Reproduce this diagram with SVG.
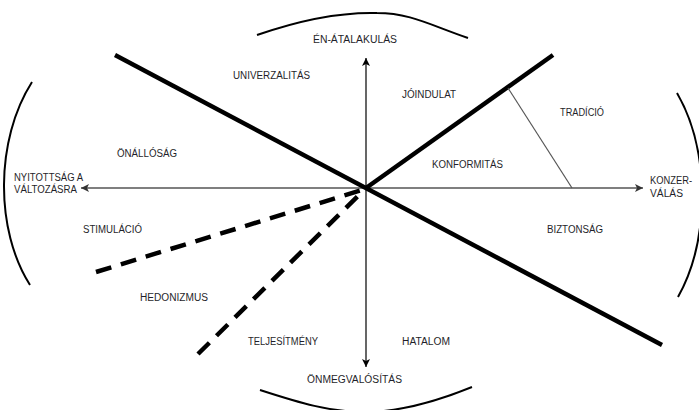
<svg xmlns="http://www.w3.org/2000/svg" width="699" height="410" viewBox="0 0 699 410">
<style>
  text { font-family: "Liberation Sans", Arial, sans-serif; font-size: 10px; fill: #1f1f2a; }
  .thick { stroke: #000; stroke-width: 4.5; fill: none; }
  .dash { stroke: #000; stroke-width: 4.5; fill: none; stroke-dasharray: 16 10; }
  .arc { stroke: #000; stroke-width: 2; fill: none; }
  .axisH { stroke: #555; stroke-width: 1.5; fill: none; }
  .axisV { stroke: #000; stroke-width: 1.2; fill: none; }
  .thin { stroke: #555; stroke-width: 1.2; fill: none; }
</style>
<defs>
  <marker id="ahG" markerUnits="userSpaceOnUse" markerWidth="9" markerHeight="8" refX="8" refY="4" orient="auto-start-reverse">
    <path d="M0,0 L8,4 L0,8 L2,4 Z" fill="#333"/>
  </marker>
  <marker id="ahB" markerUnits="userSpaceOnUse" markerWidth="9" markerHeight="8" refX="8" refY="4" orient="auto-start-reverse">
    <path d="M0,0 L8,4 L0,8 L2,4 Z" fill="#000"/>
  </marker>
</defs>
<rect width="699" height="410" fill="#fff"/>
<g id="connectors">
  <path class="arc" d="M32,82 C-5,140 -5,230 30,285"/>
  <path class="arc" d="M677,93 C710,150 710,240 678,297"/>
  <path class="arc" d="M257,35 C300,20 340,12 377,13 C410,13 430,25 468,38"/>
  <path class="arc" d="M260,390 C300,403 330,412 365,412 C400,412 440,400 472,387"/>
  <line class="axisH" x1="81" y1="188" x2="643" y2="188" marker-start="url(#ahG)" marker-end="url(#ahG)"/>
  <line class="axisV" x1="366" y1="58" x2="366" y2="367" marker-start="url(#ahB)" marker-end="url(#ahB)"/>
  <line class="thick" x1="115" y1="55" x2="662" y2="345"/>
  <line class="thick" x1="366" y1="188" x2="553" y2="55"/>
  <line class="thin" x1="508" y1="88" x2="572" y2="188"/>
  <line class="dash" x1="96" y1="272" x2="362" y2="190"/>
  <line class="dash" x1="198" y1="354" x2="364" y2="190"/>
</g>
<g id="en-atalakulas"><text x="313" y="43" textLength="84" lengthAdjust="spacingAndGlyphs">ÉN-ÁTALAKULÁS</text></g>
<g id="univerzalitas"><text x="233" y="79" textLength="77" lengthAdjust="spacingAndGlyphs">UNIVERZALITÁS</text></g>
<g id="joindulat"><text x="402" y="98" textLength="54" lengthAdjust="spacingAndGlyphs">JÓINDULAT</text></g>
<g id="tradicio"><text x="560" y="116" textLength="44" lengthAdjust="spacingAndGlyphs">TRADÍCIÓ</text></g>
<g id="onallosag"><text x="117" y="157" textLength="60" lengthAdjust="spacingAndGlyphs">ÖNÁLLÓSÁG</text></g>
<g id="konformitas"><text x="432" y="168" textLength="71" lengthAdjust="spacingAndGlyphs">KONFORMITÁS</text></g>
<g id="nyitottsag"><text x="14" y="181" textLength="69" lengthAdjust="spacingAndGlyphs">NYITOTTSÁG A</text><text x="14" y="193" textLength="63" lengthAdjust="spacingAndGlyphs">VÁLTOZÁSRA</text></g>
<g id="konzervalas"><text x="650" y="184" textLength="42" lengthAdjust="spacingAndGlyphs">KONZER-</text><text x="650" y="197" textLength="33" lengthAdjust="spacingAndGlyphs">VÁLÁS</text></g>
<g id="stimulacio"><text x="83" y="233" textLength="59" lengthAdjust="spacingAndGlyphs">STIMULÁCIÓ</text></g>
<g id="biztonsag"><text x="547" y="233" textLength="56" lengthAdjust="spacingAndGlyphs">BIZTONSÁG</text></g>
<g id="hedonizmus"><text x="140" y="301" textLength="68" lengthAdjust="spacingAndGlyphs">HEDONIZMUS</text></g>
<g id="teljesitmeny"><text x="248" y="345" textLength="70" lengthAdjust="spacingAndGlyphs">TELJESÍTMÉNY</text></g>
<g id="hatalom"><text x="402" y="345" textLength="48" lengthAdjust="spacingAndGlyphs">HATALOM</text></g>
<g id="onmegvalositas"><text x="307" y="383" textLength="95" lengthAdjust="spacingAndGlyphs">ÖNMEGVALÓSÍTÁS</text></g>
</svg>
